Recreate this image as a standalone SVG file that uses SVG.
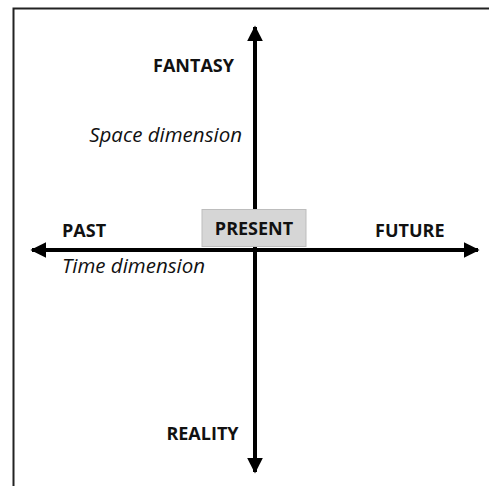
<svg xmlns="http://www.w3.org/2000/svg" width="489" height="486" viewBox="0 0 489 486">
<style>
.b{font-family:"Open Sans","Liberation Sans",sans-serif;font-weight:bold;font-size:18px;fill:#111}
.i{font-family:"Open Sans","Liberation Sans",sans-serif;font-style:italic;font-size:20.5px;fill:#111}
.ax{stroke:#000;stroke-width:4;fill:none}
</style>
<defs>
<marker id="ah" viewBox="0 0 10 10" refX="9" refY="5" markerWidth="4" markerHeight="4" orient="auto" markerUnits="strokeWidth">
<path d="M0,0 L10,5 L0,10 Z" fill="#000"/>
</marker>
</defs>
<rect width="489" height="486" fill="#fff"/>
<path d="M13.5,486 V8.5 H489" fill="none" stroke="#222" stroke-width="2"/>
<g id="connectors">
<line class="ax" x1="255" y1="472" x2="255" y2="27" marker-end="url(#ah)"/>
<line class="ax" x1="255" y1="250" x2="255" y2="472" marker-end="url(#ah)"/>
<line class="ax" x1="255" y1="250" x2="32" y2="250" marker-end="url(#ah)"/>
<line class="ax" x1="255" y1="250" x2="478" y2="250" marker-end="url(#ah)"/>
</g>
<g id="present">
<rect x="202" y="209.5" width="104" height="37" fill="#d6d6d6" stroke="#bdbdbd" stroke-width="1"/>
<text class="b" x="254" y="235" text-anchor="middle">PRESENT</text>
</g>
<g id="fantasy"><text class="b" x="193.5" y="72" text-anchor="middle">FANTASY</text></g>
<g id="reality"><text class="b" x="202.5" y="440" text-anchor="middle">REALITY</text></g>
<g id="past"><text class="b" x="62" y="237">PAST</text></g>
<g id="future"><text class="b" x="375" y="237">FUTURE</text></g>
<g id="space"><text class="i" x="242" y="142" text-anchor="end">Space dimension</text></g>
<g id="time"><text class="i" x="62" y="273">Time dimension</text></g>
</svg>
